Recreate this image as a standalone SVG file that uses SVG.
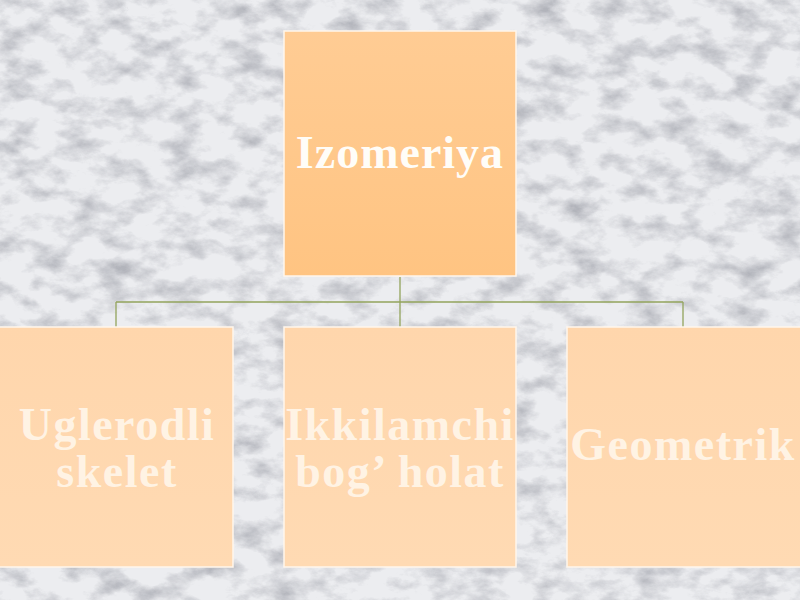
<svg xmlns="http://www.w3.org/2000/svg" width="800" height="600" viewBox="0 0 800 600">
  <defs>
    <filter id="marble" x="0" y="0" width="100%" height="100%">
      <feTurbulence type="fractalNoise" baseFrequency="0.03 0.05" numOctaves="5" seed="7" result="n"/>
      <feColorMatrix in="n" type="matrix" values="0 0 0 0 0  0 0 0 0 0  0 0 0 0 0  2.2 0 0 0 -0.95" result="a"/>
      <feFlood flood-color="#a4a6ae" result="g"/>
      <feComposite in="g" in2="a" operator="in"/>
    </filter>
    <linearGradient id="topFill" x1="0" y1="0" x2="0" y2="1">
      <stop offset="0" stop-color="#FFCC94"/>
      <stop offset="1" stop-color="#FFC482"/>
    </linearGradient>
    <linearGradient id="subFill" x1="0" y1="0" x2="0" y2="1">
      <stop offset="0" stop-color="#FFD6AC"/>
      <stop offset="1" stop-color="#FFDAB3"/>
    </linearGradient>
    <style>
      .box { stroke: #FFF6EC; stroke-width: 1.5; }
      .top { fill: url(#topFill); }
      .sub { fill: url(#subFill); }
      .lbl { font-family: "Liberation Serif", "Times New Roman", serif; font-weight: bold; font-size: 46px; text-anchor: middle; }
      .ltop { fill: #FFFDF8; letter-spacing: 1px; }
      .lsub { fill: #FFF3E4; letter-spacing: 1.5px; }
      .conn { fill: none; stroke: #93A45C; stroke-width: 1.3; }
    </style>
  </defs>
  <g id="background">
    <rect width="800" height="600" fill="#ECEDF0"/>
    <rect width="800" height="600" filter="url(#marble)" opacity="0.8"/>
  </g>
  <g id="connectors">
    <path class="conn" d="M400 277 V327 M116 302 H683 M116 302 V327 M683 302 V327"/>
  </g>
  <g id="node-izomeriya">
    <rect class="box top" x="284" y="31" width="232" height="245"/>
    <text class="lbl ltop" x="400" y="168">Izomeriya</text>
  </g>
  <g id="node-uglerodli">
    <rect class="box sub" x="-2" y="327" width="235" height="240"/>
    <text class="lbl lsub" x="117" y="440">Uglerodli</text>
    <text class="lbl lsub" x="117" y="487">skelet</text>
  </g>
  <g id="node-ikkilamchi">
    <rect class="box sub" x="284" y="327" width="232" height="240"/>
    <text class="lbl lsub" x="400" y="440">Ikkilamchi</text>
    <text class="lbl lsub" x="400" y="487">bog’ holat</text>
  </g>
  <g id="node-geometrik">
    <rect class="box sub" x="567" y="327" width="236" height="240"/>
    <text class="lbl lsub" x="683" y="460">Geometrik</text>
  </g>
</svg>
